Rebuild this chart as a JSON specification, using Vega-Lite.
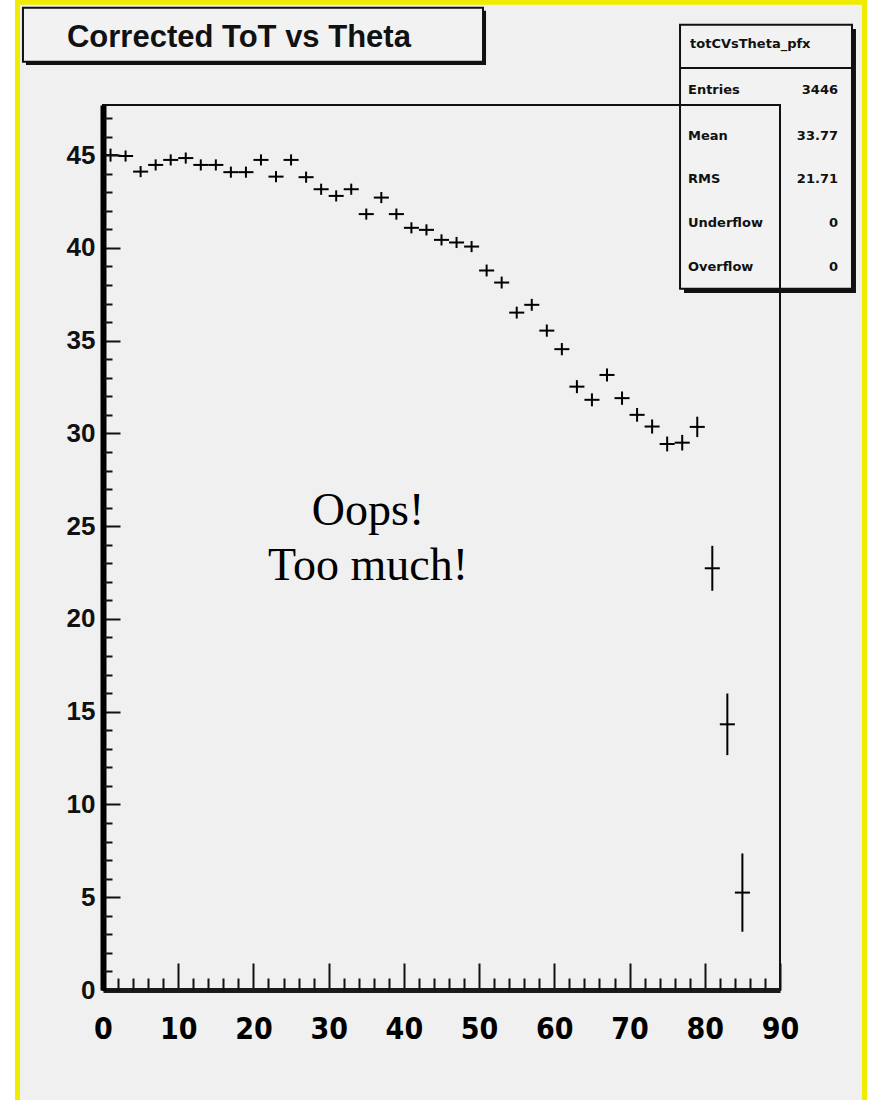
{
  "$schema": "https://vega.github.io/schema/vega-lite/v6.json",
  "width": 677,
  "height": 885,
  "autosize": "none",
  "padding": {"left": 103, "top": 105, "right": 92, "bottom": 110},
  "background": "white",
  "config": {"view": {"stroke": null}},
  "datasets": {
    "pad": [{"x1": -11.37, "x2": 101.23, "y1": 53.24, "y2": -6.5}],
    "shadows": [
      {"x1": -10.24, "x2": 50.92, "y1": 52.78, "y2": 49.86},
      {"x1": 77.24, "x2": 100.1, "y1": 51.8, "y2": 37.57}
    ],
    "boxes": [
      {"x1": -10.64, "x2": 50.52, "y1": 52.94, "y2": 50.03},
      {"x1": 76.71, "x2": 99.57, "y1": 52.02, "y2": 37.79}
    ],
    "separator": [{"x1": 76.71, "x2": 99.57, "y": 49.7}],
    "titleText": [{"x": -4.79, "y": 50.85, "text": "Corrected ToT vs Theta"}],
    "header": [{"x": 78.04, "y": 50.78, "text": "totCVsTheta_pfx"}],
    "statLabels": [
      {"x": 77.77, "y": 48.3, "text": "Entries"},
      {"x": 77.77, "y": 45.82, "text": "Mean"},
      {"x": 77.77, "y": 43.5, "text": "RMS"},
      {"x": 77.77, "y": 41.13, "text": "Underflow"},
      {"x": 77.77, "y": 38.76, "text": "Overflow"}
    ],
    "statValues": [
      {"x": 97.71, "y": 48.3, "text": "3446"},
      {"x": 97.71, "y": 45.82, "text": "33.77"},
      {"x": 97.71, "y": 43.5, "text": "21.71"},
      {"x": 97.71, "y": 41.13, "text": "0"},
      {"x": 97.71, "y": 38.76, "text": "0"}
    ],
    "note": [
      {"x": 35.23, "y": 25.07, "text": "Oops!"},
      {"x": 35.23, "y": 22.1, "text": "Too much!"}
    ],
    "frame": [{"x1": 0, "x2": 90, "y1": 0, "y2": 47.7}],
    "points": [
      {"theta": 1, "tot": 45.0, "err": 0.35, "hw": 1},
      {"theta": 3, "tot": 44.95, "err": 0.3, "hw": 1},
      {"theta": 5, "tot": 44.11, "err": 0.3, "hw": 1},
      {"theta": 7, "tot": 44.47, "err": 0.3, "hw": 1},
      {"theta": 9, "tot": 44.74, "err": 0.3, "hw": 1},
      {"theta": 11, "tot": 44.84, "err": 0.3, "hw": 1},
      {"theta": 13, "tot": 44.47, "err": 0.3, "hw": 1},
      {"theta": 15, "tot": 44.47, "err": 0.3, "hw": 1},
      {"theta": 17, "tot": 44.08, "err": 0.3, "hw": 1},
      {"theta": 19, "tot": 44.08, "err": 0.3, "hw": 1},
      {"theta": 21, "tot": 44.74, "err": 0.3, "hw": 1},
      {"theta": 23, "tot": 43.84, "err": 0.3, "hw": 1},
      {"theta": 25, "tot": 44.74, "err": 0.3, "hw": 1},
      {"theta": 27, "tot": 43.81, "err": 0.3, "hw": 1},
      {"theta": 29, "tot": 43.16, "err": 0.3, "hw": 1},
      {"theta": 31, "tot": 42.8, "err": 0.3, "hw": 1},
      {"theta": 33, "tot": 43.16, "err": 0.3, "hw": 1},
      {"theta": 35, "tot": 41.82, "err": 0.3, "hw": 1},
      {"theta": 37, "tot": 42.71, "err": 0.3, "hw": 1},
      {"theta": 39, "tot": 41.82, "err": 0.3, "hw": 1},
      {"theta": 41, "tot": 41.08, "err": 0.3, "hw": 1},
      {"theta": 43, "tot": 40.97, "err": 0.3, "hw": 1},
      {"theta": 45, "tot": 40.43, "err": 0.3, "hw": 1},
      {"theta": 47, "tot": 40.29, "err": 0.3, "hw": 1},
      {"theta": 49, "tot": 40.07, "err": 0.3, "hw": 1},
      {"theta": 51, "tot": 38.78, "err": 0.32, "hw": 1},
      {"theta": 53, "tot": 38.13, "err": 0.32, "hw": 1},
      {"theta": 55, "tot": 36.51, "err": 0.32, "hw": 1},
      {"theta": 57, "tot": 36.93, "err": 0.32, "hw": 1},
      {"theta": 59, "tot": 35.54, "err": 0.33, "hw": 1},
      {"theta": 61, "tot": 34.54, "err": 0.33, "hw": 1},
      {"theta": 63, "tot": 32.52, "err": 0.35, "hw": 1},
      {"theta": 65, "tot": 31.81, "err": 0.35, "hw": 1},
      {"theta": 67, "tot": 33.15, "err": 0.35, "hw": 1},
      {"theta": 69, "tot": 31.9, "err": 0.36, "hw": 1},
      {"theta": 71, "tot": 31.0, "err": 0.37, "hw": 1},
      {"theta": 73, "tot": 30.37, "err": 0.38, "hw": 1},
      {"theta": 75, "tot": 29.43, "err": 0.4, "hw": 1},
      {"theta": 77, "tot": 29.5, "err": 0.42, "hw": 1},
      {"theta": 79, "tot": 30.35, "err": 0.55, "hw": 1},
      {"theta": 81, "tot": 22.73, "err": 1.21, "hw": 1},
      {"theta": 83, "tot": 14.32, "err": 1.66, "hw": 1},
      {"theta": 85, "tot": 5.25, "err": 2.11, "hw": 1}
    ]
  },
  "resolve": {"axis": {"x": "independent", "y": "independent"}},
  "layer": [
    {
      "data": {"name": "pad"},
      "mark": {"type": "rect", "fill": "#f0f0f0", "stroke": "#f0ec00", "strokeWidth": 5},
      "encoding": {
        "x": {"field": "x1", "type": "quantitative", "axis": null, "scale": {"domain": [0, 90], "nice": false, "zero": false}},
        "x2": {"field": "x2"},
        "y": {"field": "y1", "type": "quantitative", "axis": null, "scale": {"domain": [0, 47.7], "nice": false, "zero": false}},
        "y2": {"field": "y2"}
      }
    },
    {
      "data": {"name": "shadows"},
      "mark": {"type": "rect", "fill": "#111111"},
      "encoding": {
        "x": {"field": "x1", "type": "quantitative", "axis": null, "scale": {"domain": [0, 90], "nice": false, "zero": false}},
        "x2": {"field": "x2"},
        "y": {"field": "y1", "type": "quantitative", "axis": null, "scale": {"domain": [0, 47.7], "nice": false, "zero": false}},
        "y2": {"field": "y2"}
      }
    },
    {
      "data": {"name": "boxes"},
      "mark": {"type": "rect", "fill": "#f2f2f2", "stroke": "#111111", "strokeWidth": 2},
      "encoding": {
        "x": {"field": "x1", "type": "quantitative", "axis": null, "scale": {"domain": [0, 90], "nice": false, "zero": false}},
        "x2": {"field": "x2"},
        "y": {"field": "y1", "type": "quantitative", "axis": null, "scale": {"domain": [0, 47.7], "nice": false, "zero": false}},
        "y2": {"field": "y2"}
      }
    },
    {
      "data": {"name": "separator"},
      "mark": {"type": "rule", "color": "#111111", "strokeWidth": 2},
      "encoding": {
        "x": {"field": "x1", "type": "quantitative", "axis": null, "scale": {"domain": [0, 90], "nice": false, "zero": false}},
        "x2": {"field": "x2"},
        "y": {"field": "y", "type": "quantitative", "axis": null, "scale": {"domain": [0, 47.7], "nice": false, "zero": false}}
      }
    },
    {
      "data": {"name": "titleText"},
      "mark": {"type": "text", "align": "left", "baseline": "alphabetic", "font": "Liberation Sans", "fontWeight": "bold", "fontSize": 31, "color": "#111111"},
      "encoding": {
        "x": {"field": "x", "type": "quantitative", "axis": null, "scale": {"domain": [0, 90], "nice": false, "zero": false}},
        "y": {"field": "y", "type": "quantitative", "axis": null, "scale": {"domain": [0, 47.7], "nice": false, "zero": false}},
        "text": {"field": "text"}
      }
    },
    {
      "data": {"name": "header"},
      "mark": {"type": "text", "align": "left", "baseline": "alphabetic", "font": "DejaVu Sans", "fontWeight": "bold", "fontSize": 13, "color": "#111111"},
      "encoding": {
        "x": {"field": "x", "type": "quantitative", "axis": null, "scale": {"domain": [0, 90], "nice": false, "zero": false}},
        "y": {"field": "y", "type": "quantitative", "axis": null, "scale": {"domain": [0, 47.7], "nice": false, "zero": false}},
        "text": {"field": "text"}
      }
    },
    {
      "data": {"name": "statLabels"},
      "mark": {"type": "text", "align": "left", "baseline": "alphabetic", "font": "DejaVu Sans", "fontWeight": "bold", "fontSize": 13, "color": "#111111"},
      "encoding": {
        "x": {"field": "x", "type": "quantitative", "axis": null, "scale": {"domain": [0, 90], "nice": false, "zero": false}},
        "y": {"field": "y", "type": "quantitative", "axis": null, "scale": {"domain": [0, 47.7], "nice": false, "zero": false}},
        "text": {"field": "text"}
      }
    },
    {
      "data": {"name": "statValues"},
      "mark": {"type": "text", "align": "right", "baseline": "alphabetic", "font": "DejaVu Sans", "fontWeight": "bold", "fontSize": 13, "color": "#111111"},
      "encoding": {
        "x": {"field": "x", "type": "quantitative", "axis": null, "scale": {"domain": [0, 90], "nice": false, "zero": false}},
        "y": {"field": "y", "type": "quantitative", "axis": null, "scale": {"domain": [0, 47.7], "nice": false, "zero": false}},
        "text": {"field": "text"}
      }
    },
    {
      "data": {"name": "note"},
      "mark": {"type": "text", "align": "center", "baseline": "alphabetic", "font": "Liberation Serif", "fontSize": 46, "color": "#000000"},
      "encoding": {
        "x": {"field": "x", "type": "quantitative", "axis": null, "scale": {"domain": [0, 90], "nice": false, "zero": false}},
        "y": {"field": "y", "type": "quantitative", "axis": null, "scale": {"domain": [0, 47.7], "nice": false, "zero": false}},
        "text": {"field": "text"}
      }
    },
    {
      "data": {"name": "frame"},
      "mark": {"type": "rect", "filled": false, "stroke": "#111111", "strokeWidth": 2},
      "encoding": {
        "x": {
          "field": "x1", "type": "quantitative",
          "scale": {"domain": [0, 90], "nice": false, "zero": false},
          "axis": {
            "orient": "bottom",
            "title": null, "grid": false, "zindex": 2,
            "values": [0, 10, 20, 30, 40, 50, 60, 70, 80, 90],
            "tickSize": -27, "tickWidth": 2, "tickColor": "#111111",
            "domainWidth": 5, "domainColor": "#1a1a1a",
            "labelFont": "DejaVu Sans Condensed, Liberation Sans", "labelFontWeight": "bold", "labelFontSize": 30, "labelColor": "#000000",
            "labelPadding": 51, "labelFlush": false, "labelOverlap": false, "labelBound": false
          }
        },
        "x2": {"field": "x2"},
        "y": {
          "field": "y1", "type": "quantitative",
          "scale": {"domain": [0, 47.7], "nice": false, "zero": false},
          "axis": {
            "orient": "left",
            "title": null, "grid": false, "zindex": 2,
            "values": [0, 5, 10, 15, 20, 25, 30, 35, 40, 45],
            "tickSize": -17, "tickWidth": 2, "tickColor": "#111111",
            "domainWidth": 6, "domainColor": "#000000",
            "labelFont": "Liberation Sans", "labelFontWeight": "bold", "labelFontSize": 26, "labelColor": "#111111",
            "labelPadding": 25, "labelFlush": false, "labelOverlap": false, "labelBound": false
          }
        },
        "y2": {"field": "y2"}
      }
    },
    {
      "data": {"name": "frame"},
      "mark": {"type": "rect", "opacity": 0},
      "encoding": {
        "x": {
          "field": "x1", "type": "quantitative",
          "scale": {"domain": [0, 90], "nice": false, "zero": false},
          "axis": {
            "orient": "bottom",
            "title": null, "grid": false, "zindex": 2, "labels": false, "domain": false,
            "values": [2, 4, 6, 8, 12, 14, 16, 18, 22, 24, 26, 28, 32, 34, 36, 38, 42, 44, 46, 48, 52, 54, 56, 58, 62, 64, 66, 68, 72, 74, 76, 78, 82, 84, 86, 88],
            "tickSize": -12, "tickWidth": 2, "tickColor": "#111111"
          }
        },
        "x2": {"field": "x2"},
        "y": {
          "field": "y1", "type": "quantitative",
          "scale": {"domain": [0, 47.7], "nice": false, "zero": false},
          "axis": {
            "orient": "left",
            "title": null, "grid": false, "zindex": 2, "labels": false, "domain": false,
            "values": [1, 2, 3, 4, 6, 7, 8, 9, 11, 12, 13, 14, 16, 17, 18, 19, 21, 22, 23, 24, 26, 27, 28, 29, 31, 32, 33, 34, 36, 37, 38, 39, 41, 42, 43, 44, 46, 47],
            "tickSize": -9, "tickWidth": 2, "tickColor": "#111111"
          }
        },
        "y2": {"field": "y2"}
      }
    },
    {
      "data": {"name": "points"},
      "mark": {"type": "errorbar", "ticks": false, "thickness": 2, "color": "#000000"},
      "encoding": {
        "x": {"field": "theta", "type": "quantitative", "axis": null, "scale": {"domain": [0, 90], "nice": false, "zero": false}},
        "y": {"field": "tot", "type": "quantitative", "axis": null, "scale": {"domain": [0, 47.7], "nice": false, "zero": false}},
        "yError": {"field": "err"}
      }
    },
    {
      "data": {"name": "points"},
      "mark": {"type": "errorbar", "ticks": false, "thickness": 2, "color": "#000000"},
      "encoding": {
        "x": {"field": "theta", "type": "quantitative", "axis": null, "scale": {"domain": [0, 90], "nice": false, "zero": false}},
        "xError": {"field": "hw"},
        "y": {"field": "tot", "type": "quantitative", "axis": null, "scale": {"domain": [0, 47.7], "nice": false, "zero": false}}
      }
    }
  ]
}
